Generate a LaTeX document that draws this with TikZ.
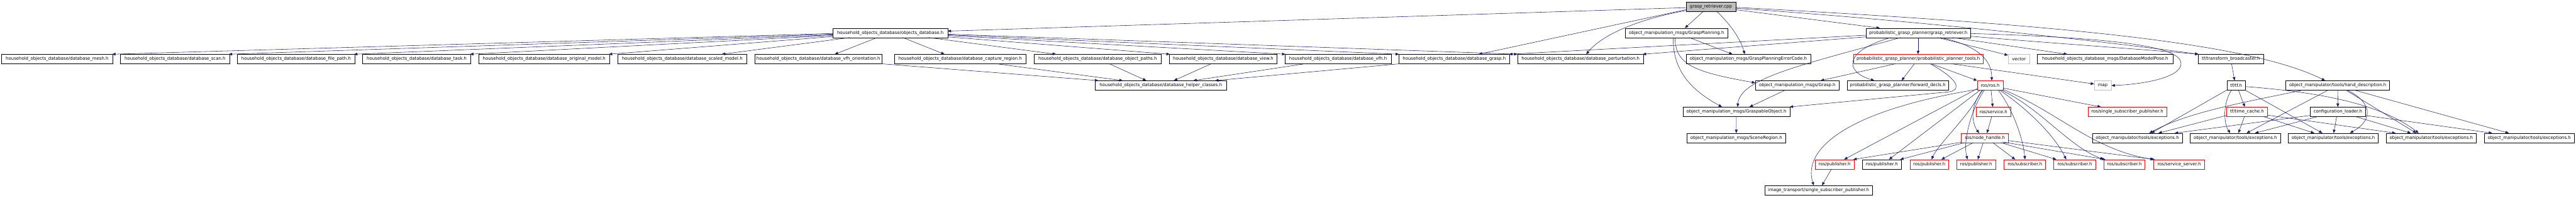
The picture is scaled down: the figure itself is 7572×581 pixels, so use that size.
\documentclass[tikz,border=0pt]{standalone}
\usepackage{fontspec}
\newfontfamily\dvs{DejaVu Sans}
\usetikzlibrary{calc,arrows.meta}
\definecolor{edgeblue}{HTML}{191970}
\definecolor{rootgray}{HTML}{BFBFBF}
\definecolor{undocgray}{HTML}{BFBFBF}
\definecolor{truncred}{HTML}{FF0000}
\newcommand\E[4]{\draw[edge] ($(#1.north west)+(#2)$) -- ($(#3.north west)+(#4)$);}
\newcommand\C[6]{\draw[edge] ($(#1.north west)+(#2)$) .. controls (#3) and (#4) .. ($(#5.north west)+(#6)$);}
\begin{document}
\begin{tikzpicture}[x=0.75pt,y=-0.75pt,
  box/.style={draw=black, fill=white, line width=0.75pt, minimum height=21pt, inner sep=0pt,
    font=\dvs\fontsize{9.6}{11}\selectfont},
  bw/.style={minimum width=#1*0.75pt},
  trunc/.style={draw=truncred},
  undoc/.style={draw=undocgray},
  root/.style={fill=rootgray},
  edge/.style={draw=edgeblue, line width=0.75pt, -{Triangle[length=7.5pt,width=6pt]}}]
\useasboundingbox (0,0) rectangle (7572,581);
% row 0
\node[box,root,bw=146] (cpp) at (5029,19.5) {grasp\_retriever.cpp};
% row 1
\node[box,bw=338] (odb) at (2617,97) {household\_objects\_database/objects\_database.h};
\node[box,bw=302] (gp) at (4928,97) {object\_manipulation\_msgs/GraspPlanning.h};
\node[box,bw=307] (grh) at (5638.5,97) {probabilistic\_grasp\_planner/grasp\_retriever.h};
% row 2
\node[box,bw=328] (mesh) at (168,174) {household\_objects\_database/database\_mesh.h};
\node[box,bw=321] (scan) at (514.5,174) {household\_objects\_database/database\_scan.h};
\node[box,bw=345] (filepath) at (870.5,174) {household\_objects\_database/database\_file\_path.h};
\node[box,bw=318] (task) at (1225,174) {household\_objects\_database/database\_task.h};
\node[box,bw=385] (orig) at (1599.5,174) {household\_objects\_database/database\_original\_model.h};
\node[box,bw=379] (scaled) at (2005.5,174) {household\_objects\_database/database\_scaled\_model.h};
\node[box,bw=375] (vfhor) at (2405.5,174) {household\_objects\_database/database\_vfh\_orientation.h};
\node[box,bw=387] (capture) at (2822.5,174) {household\_objects\_database/database\_capture\_region.h};
\node[box,bw=373] (objpaths) at (3226.5,174) {household\_objects\_database/database\_object\_paths.h};
\node[box,bw=317] (view) at (3595.5,174) {household\_objects\_database/database\_view.h};
\node[box,bw=312] (vfh) at (3933,174) {household\_objects\_database/database\_vfh.h};
\node[box,bw=327] (grasp) at (4274.5,174) {household\_objects\_database/database\_grasp.h};
\node[box,bw=370] (perturb) at (4646,174) {household\_objects\_database/database\_perturbation.h};
\node[box,bw=366] (errcode) at (5139,174) {object\_manipulation\_msgs/GraspPlanningErrorCode.h};
\node[box,trunc,bw=381] (tools) at (5638.5,174) {probabilistic\_grasp\_planner/probabilistic\_planner\_tools.h};
\node[box,undoc,bw=63] (vector) at (5934.5,174) {vector};
\node[box,bw=398] (dbmp) at (6188,174) {household\_objects\_database\_msgs/DatabaseModelPose.h};
\node[box,bw=193] (tfb) at (6557.5,174) {tf/transform\_broadcaster.h};
% row 3
\node[box,bw=386] (helper) at (3412,251.5) {household\_objects\_database/database\_helper\_classes.h};
\node[box,bw=246] (grasph) at (5283,251.5) {object\_manipulation\_msgs/Grasp.h};
\node[box,bw=299] (fwd) at (5578.5,251.5) {probabilistic\_grasp\_planner/forward\_decls.h};
\node[box,trunc,bw=76] (ros) at (5850,251.5) {ros/ros.h};
\node[box,undoc,bw=50] (map) at (6181,251.5) {map};
\node[box,bw=54] (tf) at (6573,251.5) {tf/tf.h};
\node[box,bw=305] (hand) at (6871.5,251.5) {object\_manipulator/tools/hand\_description.h};
% row 4
\node[box,bw=314] (graspable) at (5104,329) {object\_manipulation\_msgs/GraspableObject.h};
\node[box,trunc,bw=103] (service) at (5859.5,329) {ros/service.h};
\node[box,trunc,bw=232] (ssp) at (6253,329) {ros/single\_subscriber\_publisher.h};
\node[box,trunc,bw=120] (timecache) at (6605,329) {tf/time\_cache.h};
\node[box,bw=162] (config) at (6872,329) {configuration\_loader.h};
% row 5
\node[box,bw=291] (scene) at (5103.5,406) {object\_manipulation\_msgs/SceneRegion.h};
\node[box,trunc,bw=139] (nh) at (5834.5,406) {ros/node\_handle.h};
\node[box,bw=265] (ex1) at (6282.5,406) {object\_manipulator/tools/exceptions.h};
\node[box,bw=265] (ex2) at (6570.5,406) {object\_manipulator/tools/exceptions.h};
\node[box,bw=265] (ex3) at (6858.5,406) {object\_manipulator/tools/exceptions.h};
\node[box,bw=265] (ex4) at (7146.5,406) {object\_manipulator/tools/exceptions.h};
\node[box,bw=265] (ex5) at (7434.5,406) {object\_manipulator/tools/exceptions.h};
% row 6
\node[box,trunc,bw=115] (pub1) at (5392.5,483.5) {ros/publisher.h};
\node[box,bw=113] (pub2) at (5531.5,483.5) {ros/publisher.h};
\node[box,trunc,bw=114] (pub3) at (5671,483.5) {ros/publisher.h};
\node[box,trunc,bw=115] (pub4) at (5808.5,483.5) {ros/publisher.h};
\node[box,trunc,bw=122] (sub1) at (5952,483.5) {ros/subscriber.h};
\node[box,trunc,bw=123] (sub2) at (6098.5,483.5) {ros/subscriber.h};
\node[box,trunc,bw=121] (sub3) at (6244.5,483.5) {ros/subscriber.h};
\node[box,trunc,bw=149] (srv) at (6405.5,483.5) {ros/service\_server.h};
% row 7
\node[box,bw=317] (it) at (5345.5,560) {image\_transport/single\_subscriber\_publisher.h};

% ---- edges from grasp_retriever.cpp
\E{cpp}{0,17.5}{odb}{338,9}
\E{cpp}{0,23.5}{grasp}{236,0}
\C{cpp}{0,26}{4850,50}{4720,90}{perturb}{202,0}
\E{cpp}{52,28}{gp}{176,0}
\C{cpp}{90,28}{5080,65}{5115,110}{errcode}{173,0}
\E{cpp}{146,23.5}{grh}{41,0}
\C{cpp}{146,19.5}{5500,50}{6100,110}{tfb}{2,0}
\C{cpp}{146,16.5}{6000,70}{6600,120}{hand}{116,0}

% ---- edges from objects_database.h
\E{odb}{0,16}{mesh}{326,0}
\E{odb}{0,18}{scan}{319,0}
\E{odb}{0,20}{filepath}{343,0}
\E{odb}{0,22}{task}{316,0}
\E{odb}{0,25}{orig}{383,0}
\E{odb}{51,28}{scaled}{306,0}
\E{odb}{131,28}{vfhor}{236,0}
\E{odb}{206,28}{capture}{148,0}
\E{odb}{282,28}{objpaths}{65,0}
\E{odb}{338,26}{view}{2,0}
\E{odb}{338,22}{vfh}{2,0}
\E{odb}{338,20}{grasp}{2,0}
\E{odb}{338,18}{perturb}{0,0}

% ---- database children to helper classes
\E{vfhor}{372,28}{helper}{10,0}
\E{capture}{300,28}{helper}{82,0}
\E{objpaths}{221,28}{helper}{151,0}
\E{view}{124,28}{helper}{232,0}
\E{vfh}{60,28}{helper}{289,0}
\E{grasp}{5,28}{helper}{353,0}

% ---- GraspPlanning.h
\E{gp}{189,28}{errcode}{137,0}
\C{gp}{147,28}{4924,190}{4980,212}{grasph}{0,6.5}
\C{gp}{142,28}{4915,220}{4990,275}{graspable}{115,0}

% ---- grasp_retriever.h
\E{grh}{0,21}{grasp}{325,0}
\E{grh}{0,26}{perturb}{368,0}
\E{grh}{153.5,28}{tools}{190.5,0}
\C{grh}{102,28}{5300,190}{5115,230}{graspable}{161,0}
\C{grh}{73,28}{5420,150}{5420,210}{fwd}{81,0}
\C{grh}{219,28}{5800,130}{5855,170}{ros}{43,0}
\E{grh}{211,28}{vector}{0,3}
\E{grh}{255,28}{dbmp}{88,0}
\C{grh}{307,24}{6000,125}{6300,145}{tfb}{2,0}
\draw[edge] ($(grh.north west)+(307,16)$) .. controls (6250,112) and (6411,140) .. (6411,187)
  .. controls (6411,228) and (6300,248) .. (map.east);

% ---- probabilistic_planner_tools.h
\E{tools}{124,28}{grasph}{192,0}
\E{tools}{180,28}{fwd}{161,0}
\E{tools}{229,28}{ros}{0,0}
\draw[edge] ($(tools.north west)+(226,28)$) .. controls (5750,230) and (5770,262) .. (5730,270)
  -- ($(graspable.north west)+(314,0)$);
\E{tools}{288,28}{map}{0,10}

% ---- Grasp.h / GraspableObject.h
\E{grasph}{88,28}{graspable}{196,0}
\draw[edge] (graspable) -- (scene);

% ---- ros/ros.h
\E{ros}{41,28}{service}{50,0}
\E{ros}{76,22}{ssp}{39,0}
\C{ros}{17,28}{5790,310}{5795,360}{nh}{53,0}
\E{ros}{0,24}{pub1}{86,0}
\C{ros}{0,26}{5400,330}{5300,450}{it}{145,0}
\E{ros}{9,28}{pub2}{78,0}
\C{ros}{14,28}{5790,340}{5700,420}{pub3}{64,0}
\C{ros}{21,28}{5790,330}{5770,420}{pub4}{33,0}
\C{ros}{62,28}{5915,320}{5945,400}{sub1}{62,0}
\C{ros}{66,28}{5960,320}{6040,400}{sub2}{37,0}
\C{ros}{71,28}{6000,320}{6080,430}{sub3}{0,0}
\C{ros}{76,26}{6050,330}{6150,440}{srv}{0,0}
\E{service}{47,28}{nh}{76,0}

% ---- ros/node_handle.h
\E{nh}{0,27}{pub1}{113,0}
\E{nh}{10,28}{pub2}{111,0}
\E{nh}{36,28}{pub3}{93,0}
\E{nh}{65,28}{pub4}{63,0}
\E{nh}{93,28}{sub1}{33,0}
\E{nh}{117,28}{sub2}{8,0}
\E{nh}{122,26}{sub3}{5,0}
\E{nh}{139,22}{srv}{3,0}
\E{pub1}{49,28}{it}{169,0}

% ---- tf
\E{tfb}{99,28}{tf}{23,0}
\E{tf}{0,28}{ex1}{174,0}
\C{tf}{14,28}{6535,300}{6535,360}{ex2}{118,0}
\E{tf}{34,28}{timecache}{54,0}
\E{tf}{54,28}{ex3}{101,0}
\C{tf}{54,17.5}{6800,270}{6990,300}{ex4}{96,0}

% ---- hand_description.h
\C{hand}{51,28}{6600,300}{6430,330}{ex1}{168,0}
\E{hand}{125,28}{ex2}{166,0}
\draw[edge] (hand) -- (config);
\C{hand}{181,28}{6970,300}{6980,350}{ex3}{182,0}
\E{hand}{177,28}{ex4}{89,0}
\E{hand}{202,28}{ex5}{73,0}

% ---- time_cache.h
\E{timecache}{0,25}{ex1}{195,0}
\E{timecache}{53,28}{ex2}{142,0}
\E{timecache}{108,28}{ex3}{77,0}
\E{timecache}{120,24}{ex4}{28,0}

% ---- configuration_loader.h
\E{config}{0,25}{ex1}{243,0}
\E{config}{24,28}{ex2}{191,0}
\E{config}{78,28}{ex3}{134,0}
\E{config}{132,28}{ex4}{73,0}
\E{config}{162,25}{ex5}{24,0}
\end{tikzpicture}
\end{document}
